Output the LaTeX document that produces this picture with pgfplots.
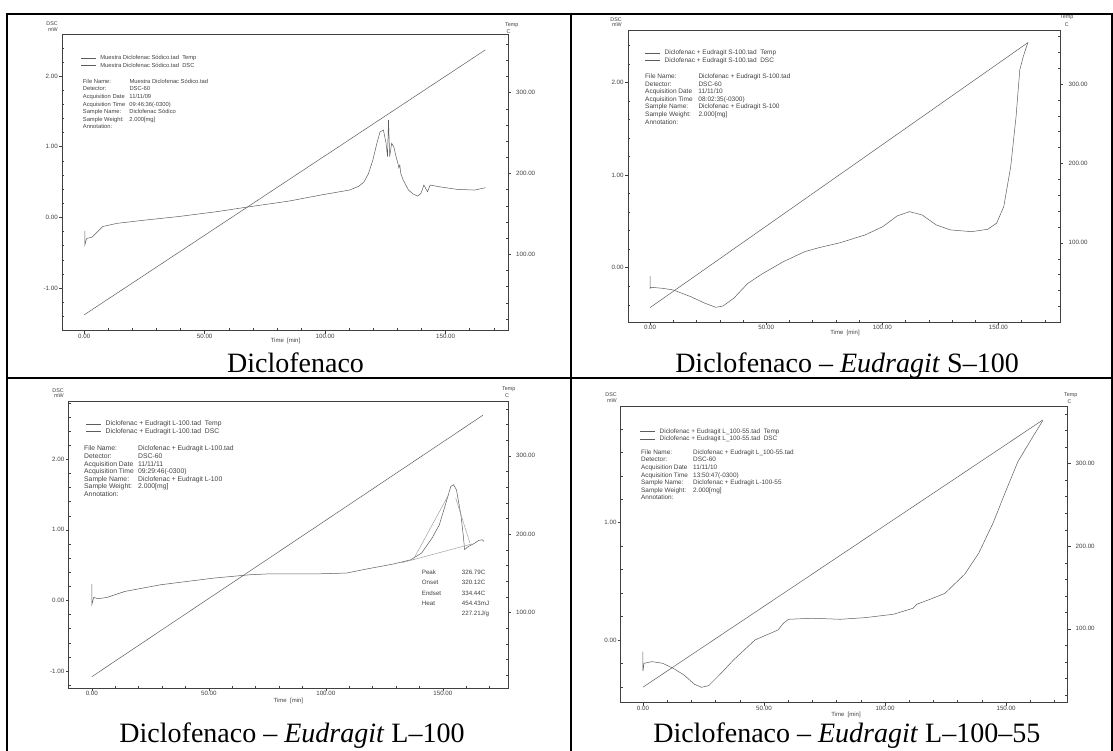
\documentclass[border=0pt]{standalone}
\usepackage{fontspec}
\setmainfont{Liberation Serif}
\newfontfamily\arial{Liberation Sans}
\usepackage{pgfplots}
\pgfplotsset{compat=1.18}
\definecolor{ink}{gray}{0.25}
\definecolor{crv}{gray}{0.36}
\definecolor{aux}{gray}{0.60}
\newcommand\tfont{\arial\fontsize{6.2}{6.5}\selectfont}
\newcommand\lfont{\arial\fontsize{5.4}{5.5}\selectfont}
\pgfplotsset{
  common/.style={scale only axis, anchor=south west,
    axis line style={ink, line width=0.45pt},
    tick style={ink, line width=0.4pt},
    major tick length=3pt, minor tick length=-2.2pt,
    ticklabel style={font=\tfont, text=ink, inner sep=1pt},
    /pgf/number format/fixed, /pgf/number format/fixed zerofill,
    /pgf/number format/precision=2, /pgf/number format/assume math mode=true},
  dsc/.style={common, tick align=outside, tick pos=left,
    xtick={0,50,100,150},
    minor xtick={10,20,30,40,60,70,80,90,110,120,130,140,160,170},
    xticklabel style={yshift=1pt},
    legend cell align=left,
    legend image code/.code={\draw[##1] (0pt,0pt) -- (15pt,0pt);},
    legend style={anchor=north west, draw=none, fill=none, inner sep=0pt,
      row sep=1.7pt, column sep=4pt,
      nodes={inner sep=0pt, text height=4.6pt, text depth=1.4pt, text=ink}}},
  temp/.style={common, axis x line=none, axis y line*=right, tick align=outside,
    ytick={100,200,300},
    minor ytick={20,40,60,80,120,140,160,180,220,240,260,280,320,340,360},
    yticklabel style={xshift=4pt}},
  cv/.style={crv, line width=0.5pt},
}
\begin{document}
\begin{tikzpicture}
\useasboundingbox (0pt,0pt) rectangle (1113pt,751pt);

% ================= Panel 1 =================
\begin{axis}[dsc, at={(62pt,420.3pt)}, width=446pt, height=296.4pt,
  xmin=-9.2, xmax=175.9, ymin=-1.604, ymax=2.59, ytick={-1,0,1,2},
  minor ytick={-1.4,-1.2,-0.8,-0.6,-0.4,-0.2,0.2,0.4,0.6,0.8,1.2,1.4,1.6,1.8,2.2,2.4},
  legend style={at={(0.0419,0.9308)}, font=\arial\fontsize{5.8}{6}\selectfont}]
\addlegendimage{cv}
\addlegendentry{Muestra Diclofenac Sódico.tad\ \ Temp}
\addplot[cv] coordinates {(0.3,-0.19) (0.3,-0.39) (1.0,-0.30) (3.3,-0.28) (7.7,-0.13)
 (13.7,-0.085) (25,-0.04) (38.9,0.01) (55,0.08) (68.6,0.15) (85,0.23) (98.3,0.316)
 (110.1,0.386) (114,0.44) (116.1,0.50) (118,0.62) (119.8,0.81) (121.5,1.05) (122.8,1.21)
 (124.2,1.235) (125.3,1.047) (125.9,0.858) (126.3,1.377) (126.8,0.858) (127.6,1.047)
 (128.5,0.999) (129.5,0.85) (130.2,0.764) (130.6,0.70) (131.0,0.74) (131.4,0.62)
 (132.4,0.528) (134.6,0.386) (136.5,0.33) (138.4,0.301) (139.8,0.340) (141.0,0.457)
 (142.1,0.386) (142.5,0.362) (143.6,0.457) (147.3,0.433) (154.7,0.396) (162.1,0.386)
 (166.5,0.419)};
\addlegendentry{Muestra Diclofenac Sódico.tad\ \ DSC}
\end{axis}
\begin{axis}[temp, at={(62pt,420.3pt)}, width=446pt, height=296.4pt,
  xmin=-9.2, xmax=175.9, ymin=5.4, ymax=372.3]
\addplot[cv] coordinates {(0,25) (166.5,353)};
\end{axis}

% ================= Panel 2 =================
\begin{axis}[dsc, at={(627.8pt,428.7pt)}, width=432.6pt, height=291.6pt,
  xmin=-9.6, xmax=176.7, ymin=-0.59, ymax=2.56, ytick={0,1,2},
  minor ytick={-0.4,-0.2,0.2,0.4,0.6,0.8,1.2,1.4,1.6,1.8,2.2,2.4},
  legend style={at={(0.0398,0.9345)}, font=\arial\fontsize{6.5}{7}\selectfont}]
\addlegendimage{cv}
\addlegendentry{Diclofenac + Eudragit S-100.tad\ \ Temp}
\addplot[cv] coordinates {(0,-0.09) (0,-0.223) (0.5,-0.212) (5.4,-0.223) (10.0,-0.241)
 (17.6,-0.314) (23.7,-0.385) (28.3,-0.428) (31.4,-0.414) (36.0,-0.331) (42.1,-0.169)
 (48.2,-0.068) (57.4,0.065) (66.6,0.173) (72.7,0.216) (81.9,0.270) (92.6,0.354)
 (100.2,0.443) (106.4,0.559) (111.7,0.605) (117.1,0.570) (123.2,0.462) (129.3,0.408)
 (138.5,0.389) (145.4,0.415) (149.2,0.480) (152.3,0.659) (155.3,1.092) (157.6,1.632)
 (159.2,2.137) (160.7,2.281) (162.7,2.432)};
\addlegendentry{Diclofenac + Eudragit S-100.tad\ \ DSC}
\end{axis}
\begin{axis}[temp, at={(627.8pt,428.7pt)}, width=432.6pt, height=291.6pt,
  xmin=-9.6, xmax=176.7, ymin=0, ymax=367]
\addplot[cv] coordinates {(0,18.5) (162.7,352)};
\end{axis}

% ================= Panel 3 =================
\begin{axis}[dsc, at={(68.5pt,62.7pt)}, width=439.4pt, height=287.3pt,
  xmin=-9.96, xmax=177.8, ymin=-1.245, ymax=2.826, ytick={-1,0,1,2},
  minor ytick={-1.2,-0.8,-0.6,-0.4,-0.2,0.2,0.4,0.6,0.8,1.2,1.4,1.6,1.8,2.2,2.4,2.6,2.8},
  legend style={at={(0.0398,0.931)}, font=\arial\fontsize{6.8}{7}\selectfont}]
\addlegendimage{cv}
\addlegendentry{Diclofenac + Eudragit L-100.tad\ \ Temp}
\addplot[cv] coordinates {(0,0.232) (0,-0.061) (0.8,0.043) (2.7,0.024) (6.5,0.043)
 (14.2,0.128) (29.4,0.222) (52.3,0.317) (67.6,0.364) (76.8,0.378) (98.1,0.378)
 (108.8,0.388) (118.0,0.449) (128.7,0.515) (136.3,0.576) (140.9,0.671) (145.4,0.884)
 (148.5,1.072) (151.5,1.402) (153.4,1.615) (154.6,1.639) (155.8,1.568) (157.7,1.214)
 (158.7,0.93) (159.3,0.72) (160.7,0.76) (162.4,0.79) (164,0.82) (165.3,0.85)
 (166.8,0.86) (167.6,0.836)};
\addlegendentry{Diclofenac + Eudragit L-100.tad\ \ DSC}
\addplot[aux, line width=0.45pt] coordinates {(132,0.53) (162.4,0.80)};
\addplot[aux, line width=0.45pt] coordinates {(137.4,0.58) (152.5,1.50)};
\addplot[aux, line width=0.45pt] coordinates {(155.5,1.45) (161.6,0.81)};
\end{axis}
\begin{axis}[temp, at={(68.5pt,62.7pt)}, width=439.4pt, height=287.3pt,
  xmin=-9.96, xmax=177.8, ymin=3.4, ymax=369.9]
\addplot[cv] coordinates {(0,18.2) (167.1,351.7)};
\end{axis}

% ================= Panel 4 =================
\begin{axis}[dsc, at={(620.7pt,48.3pt)}, width=446.8pt, height=296.2pt,
  xmin=-9.2, xmax=175.4, ymin=-0.535, ymax=1.99, ytick={0,1},
  minor ytick={-0.4,-0.2,0.2,0.4,0.6,0.8,1.2,1.4,1.6,1.8},
  legend style={at={(0.0432,0.9257)}, font=\arial\fontsize{6.4}{7}\selectfont}]
\addlegendimage{cv}
\addlegendentry{Diclofenac + Eudragit L\_100-55.tad\ \ Temp}
\addplot[cv] coordinates {(0,-0.100) (0,-0.264) (0.45,-0.199) (3.7,-0.185) (8.1,-0.199)
 (12.5,-0.242) (16.9,-0.298) (21.3,-0.378) (24.2,-0.404) (27.2,-0.389) (31.6,-0.298)
 (37.4,-0.171) (46.3,0.0) (55.8,0.085) (58.0,0.142) (60.2,0.176) (69.8,0.185)
 (81.5,0.176) (91.8,0.190) (103.5,0.219) (111.6,0.270) (113.1,0.304) (119.7,0.355)
 (124.8,0.398) (132.9,0.560) (138.7,0.739) (144.6,0.995) (149.8,1.264) (154.9,1.520)
 (160.7,1.719) (165.2,1.870)};
\addlegendentry{Diclofenac + Eudragit L\_100-55.tad\ \ DSC}
\end{axis}
\begin{axis}[temp, at={(620.7pt,48.3pt)}, width=446.8pt, height=296.2pt,
  xmin=-9.2, xmax=175.4, ymin=10.4, ymax=369.3]
\addplot[cv] coordinates {(0,29.2) (165.2,353)};
\end{axis}

% ================= axis titles =================
\begin{scope}[every node/.style={inner sep=0pt, text=ink, font=\lfont}]
\node[anchor=base east] at (58pt,725pt) {DSC};
\node[anchor=base east] at (58pt,719.5pt) {mW};
\node[anchor=base west] at (505pt,724.3pt) {Temp};
\node[anchor=base west] at (506.5pt,717pt) {C};
\node[anchor=base east] at (622pt,729.5pt) {DSC};
\node[anchor=base east] at (622pt,724pt) {mW};
\node[anchor=base west] at (1060pt,732pt) {Temp};
\node[anchor=base west] at (1064.7pt,724.3pt) {C};
\node[anchor=base east] at (64pt,358.5pt) {DSC};
\node[anchor=base east] at (64pt,353pt) {mW};
\node[anchor=base west] at (502pt,360pt) {Temp};
\node[anchor=base west] at (505pt,353.7pt) {C};
\node[anchor=base east] at (617pt,354pt) {DSC};
\node[anchor=base east] at (617pt,348.5pt) {mW};
\node[anchor=base west] at (1064pt,354.3pt) {Temp};
\node[anchor=base west] at (1067.5pt,347pt) {C};
\end{scope}
\begin{scope}[every node/.style={inner sep=0pt, text=ink, font=\arial\fontsize{6}{6}\selectfont, anchor=base}]
\node at (285.5pt,408.3pt) {Time\ \ [min]};
\node at (845pt,416.7pt) {Time\ \ [min]};
\node at (288.4pt,48.3pt) {Time\ \ [min]};
\node at (846pt,34.7pt) {Time\ \ [min]};
\end{scope}

% ================= info blocks =================
\node[anchor=north west, inner sep=0pt, text=ink, font=\arial\fontsize{5.8}{7.6}\selectfont]
 at (82.7pt,673.2pt) {\begin{tabular}{@{}p{46.6pt}@{}l@{}}
 File Name: & Muestra Diclofenac Sódico.tad\\
 Detector: & DSC-60\\
 Acquisition Date & 11/11/09\\
 Acquisition Time & 09:46:36(-0300)\\
 Sample Name: & Diclofenac Sódico\\
 Sample Weight: & 2.000[mg]\\
 Annotation: & \end{tabular}};
\node[anchor=north west, inner sep=0pt, text=ink, font=\arial\fontsize{6.5}{7.6}\selectfont]
 at (645pt,678pt) {\begin{tabular}{@{}p{53.3pt}@{}l@{}}
 File Name: & Diclofenac + Eudragit S-100.tad\\
 Detector: & DSC-60\\
 Acquisition Date & 11/11/10\\
 Acquisition Time & 08:02:35(-0300)\\
 Sample Name: & Diclofenac + Eudragit S-100\\
 Sample Weight: & 2.000[mg]\\
 Annotation: & \end{tabular}};
\node[anchor=north west, inner sep=0pt, text=ink, font=\arial\fontsize{6.8}{7.6}\selectfont]
 at (84pt,305.6pt) {\begin{tabular}{@{}p{54pt}@{}l@{}}
 File Name: & Diclofenac + Eudragit L-100.tad\\
 Detector: & DSC-60\\
 Acquisition Date & 11/11/11\\
 Acquisition Time & 09:29:46(-0300)\\
 Sample Name: & Diclofenac + Eudragit L-100\\
 Sample Weight: & 2.000[mg]\\
 Annotation: & \end{tabular}};
\node[anchor=north west, inner sep=0pt, text=ink, font=\arial\fontsize{6.4}{7.6}\selectfont]
 at (641pt,302.3pt) {\begin{tabular}{@{}p{52pt}@{}l@{}}
 File Name: & Diclofenac + Eudragit L\_100-55.tad\\
 Detector: & DSC-60\\
 Acquisition Date & 11/11/10\\
 Acquisition Time & 13:50:47(-0300)\\
 Sample Name: & Diclofenac + Eudragit L-100-55\\
 Sample Weight: & 2.000[mg]\\
 Annotation: & \end{tabular}};
\node[anchor=north west, inner sep=0pt, text=ink, font=\arial\fontsize{6.2}{10.6}\selectfont]
 at (421.7pt,184.5pt) {\begin{tabular}{@{}p{40pt}@{}l@{}}
 Peak & 326.79C\\
 Onset & 320.12C\\
 Endset & 334.44C\\
 Heat & 454.43mJ\\[-1pt]
  & 227.21J/g\end{tabular}};

% ================= captions =================
\begin{scope}[every node/.style={inner sep=0pt, anchor=base, font=\fontsize{28}{30}\selectfont}]
\node at (295.5pt,378.7pt) {Diclofenaco};
\node at (847pt,378.4pt) {Diclofenaco – \textit{Eudragit} S–100};
\node at (292pt,8pt) {Diclofenaco – \textit{Eudragit} L–100};
\node at (846.8pt,8.3pt) {Diclofenaco – \textit{Eudragit} L–100–55};
\end{scope}

% ================= table rules =================
\draw[black, line width=2pt] (6pt,737pt) -- (1113pt,737pt);
\draw[black, line width=2pt] (7pt,738pt) -- (7pt,-1pt);
\draw[black, line width=2pt] (570.5pt,738pt) -- (570.5pt,-1pt);
\draw[black, line width=2pt] (6pt,372.5pt) -- (1113pt,372.5pt);
\draw[black, line width=2pt] (1111.8pt,738pt) -- (1111.8pt,-1pt);
\end{tikzpicture}
\end{document}
